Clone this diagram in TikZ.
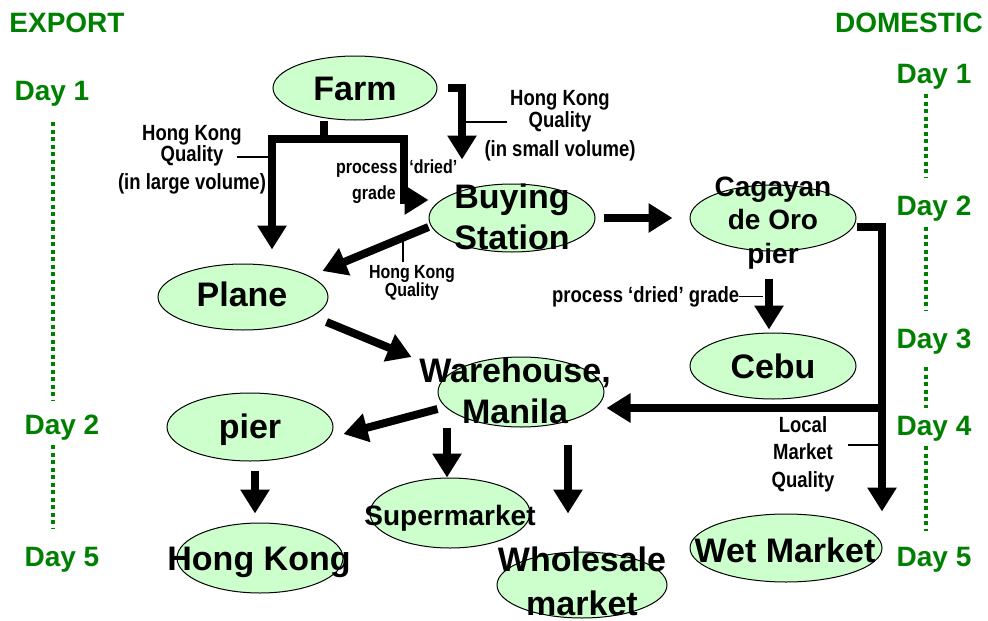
\documentclass[tikz,border=0pt]{standalone}
\usepackage{fontspec}
\setmainfont{Liberation Sans}
\newfontfamily\narrowfont{Liberation Sans}[FakeStretch=0.84]
\usetikzlibrary{arrows.meta,shapes.geometric}
\definecolor{leaf}{RGB}{204,255,204}
\definecolor{daygreen}{RGB}{0,128,0}

\tikzset{
  bubble/.style={ellipse, draw=black, line width=1pt, fill=leaf, inner sep=0pt},
  big/.style={font=\bfseries\fontsize{34}{41}\selectfont, align=center, inner sep=0pt},
  mid/.style={font=\bfseries\fontsize{28}{33.5}\selectfont, align=center, inner sep=0pt},
  note/.style={font=\narrowfont\bfseries\fontsize{22}{19}\selectfont, align=center, inner sep=0pt},
  smallnote/.style={font=\narrowfont\bfseries\fontsize{19}{15}\selectfont, align=center, inner sep=0pt},
  flow/.style={line width=8pt, line join=miter},
  flowarrow/.style={flow, -{Triangle[length=24pt,width=28pt]}},
  leader/.style={line width=1.5pt},
  daylabel/.style={font=\bfseries\fontsize{28}{32}\selectfont, text=daygreen, inner sep=0pt, anchor=base},
  dots/.style={draw=daygreen, line width=4pt, dash pattern=on 4pt off 3.5pt},
}

\begin{document}
\begin{tikzpicture}[x=1pt, y=-1pt]
\useasboundingbox (0,0) rectangle (988,621);

% ---- market places ----
\node[bubble, minimum width=164pt, minimum height=64pt] (farm)      at (355,88)  {};
\node[bubble, minimum width=166pt, minimum height=68pt] (buying)    at (512,218) {};
\node[bubble, minimum width=166pt, minimum height=66pt] (cagayan)   at (773,218) {};
\node[bubble, minimum width=170pt, minimum height=66pt] (plane)     at (243,297) {};
\node[bubble, minimum width=166pt, minimum height=66pt] (cebu)      at (773,366) {};
\node[bubble, minimum width=166pt, minimum height=70pt] (warehouse) at (521,392) {};
\node[bubble, minimum width=166pt, minimum height=68pt] (pier)      at (250,427) {};
\node[bubble, minimum width=166pt, minimum height=70pt] (hk)        at (260,558) {};
\node[bubble, minimum width=160pt, minimum height=70pt] (super)     at (450,513) {};
\node[bubble, minimum width=170pt, minimum height=66pt] (wholesale) at (582,585) {};
\node[bubble, minimum width=192pt, minimum height=68pt] (wet)       at (786,548) {};

% ---- their names ----
\node[big, anchor=base] (farmtxt) at (355,100) {Farm};
\node[big] (buyingtxt) at (512,217) {Buying\\Station};
\node[mid] (cagayantxt) at (773,223) {Cagayan\\de Oro\\pier};
\node[big, anchor=base] (planetxt) at (242,306) {Plane};
\node[big, anchor=base] (cebutxt) at (773,378) {Cebu};
\node[big] (warehousetxt) at (515,391) {Warehouse,\\Manila};
\node[big, anchor=base] (piertxt) at (250,438) {pier};
\node[big, anchor=base] (hktxt) at (259,570) {Hong Kong};
\node[mid, anchor=base] (supertxt) at (450,525) {Supermarket};
\node[big, font=\bfseries\fontsize{34}{44}\selectfont] (wholesaletxt) at (582,581) {Wholesale\\market};
\node[big, anchor=base] (wettxt) at (785,562) {Wet Market};

% ---- route notes ----
\node[note] (lab1) at (192,159.5) {Hong Kong\\Quality\\[6pt](in large volume)};
\node[note] (lab2) at (560,126) {Hong Kong\\Quality\\[8pt](in small volume)};
\node[smallnote] (lab3) at (412,283) {Hong Kong\\Quality};
\node[smallnote, anchor=base west] (proc1) at (336,173) {process\hspace{12pt}‘dried’};
\node[smallnote, anchor=base west] (proc2) at (352,199) {grade};
\node[note, anchor=base west] (lab4) at (552,302) {process ‘dried’ grade};
\node[note, font=\narrowfont\bfseries\fontsize{22}{27.5}\selectfont] (lab5) at (803,454) {Local\\Market\\Quality};

% ---- time scales ----
\node[daylabel] (export) at (67,32) {EXPORT};
\node[daylabel] (e1) at (52,100) {Day 1};
\node[daylabel] (e2) at (62,434) {Day 2};
\node[daylabel] (e5) at (62,566) {Day 5};
\node[daylabel] (domestic) at (909,32) {DOMESTIC};
\node[daylabel] (d1) at (934,83) {Day 1};
\node[daylabel] (d2) at (934,215) {Day 2};
\node[daylabel] (d3) at (934,348) {Day 3};
\node[daylabel] (d4) at (934,435) {Day 4};
\node[daylabel] (d5) at (934,566) {Day 5};

\draw[dots] ([xshift=1pt,yshift=-22pt]e1.base) -- ([xshift=-9pt,yshift=34pt]e2.base);
\draw[dots] ([xshift=-9pt,yshift=-11pt]e2.base) -- ([xshift=-9pt,yshift=38pt]e5.base);
\draw[dots] ([xshift=-8pt,yshift=-11pt]d1.base) -- ([xshift=-8pt,yshift=38pt]d2.base);
\draw[dots] ([xshift=-8pt,yshift=-12pt]d2.base) -- ([xshift=-8pt,yshift=38pt]d3.base);
\draw[dots] ([xshift=-8pt,yshift=-19pt]d3.base) -- ([xshift=-8pt,yshift=27pt]d4.base);
\draw[dots] ([xshift=-8pt,yshift=-11pt]d4.base) -- ([xshift=-8pt,yshift=35pt]d5.base);

% ---- flows ----
\coordinate (split) at (324,139);
\draw[flow] ([xshift=-31pt]farm.south) -- (split);
\draw[flowarrow] (split) -| ([xshift=29pt,yshift=14pt]plane.north);
\draw[flowarrow] (split) -| ([xshift=-25pt,yshift=18pt]buying.west) -- ([yshift=18pt]buying.west);
\draw[flowarrow] ([xshift=10pt]farm.east) -| ([xshift=-50pt,yshift=24pt]buying.north);

\draw[flowarrow] ([yshift=-9pt]buying.west) -- ([xshift=-6pt,yshift=26pt]plane.east);
\draw[flowarrow] ([xshift=8pt]buying.east) -- ([xshift=-17pt]cagayan.west);
\draw[flowarrow] ([xshift=-4pt,yshift=-27pt]cagayan.south) -- ([xshift=-4pt,yshift=3pt]cebu.north);

\coordinate (trunk) at (882,408);
\draw[flow] ([yshift=-9pt]cagayan.east) -| (trunk);
\draw[flowarrow] (trunk) -- ([xshift=2pt,yshift=-16pt]warehouse.east);
\draw[flowarrow] (trunk) -- ([yshift=2pt]trunk |- wet.north);

\draw[flowarrow] ([xshift=-2pt,yshift=-25pt]plane.east) -- ([xshift=-26pt,yshift=35pt]warehouse.west);
\draw[flowarrow] ([yshift=-17pt]warehouse.west) -- ([xshift=10pt,yshift=-7pt]pier.east);
\draw[flowarrow] ([xshift=-74pt]warehouse.south) -- ([xshift=-3pt]super.north);
\draw[flowarrow] ([xshift=47pt,yshift=-17pt]warehouse.south) -- ([xshift=-14pt,yshift=38pt]wholesale.north);
\draw[flowarrow] ([xshift=5pt,yshift=-9pt]pier.south) -- ([xshift=-5pt,yshift=9pt]hk.north);

% ---- note leaders ----
\draw[leader] ([xshift=45pt,yshift=2.5pt]lab1.center) -- ++(31pt,0pt);
\draw[leader] ([xshift=-53pt,yshift=4pt]lab2.center) -- ++(-41pt,0pt);
\draw[leader] ([xshift=-9pt,yshift=21pt]lab3.center) -- ++(0pt,27pt);
\draw[leader] (lab4.east) -- ++(24pt,0pt);
\draw[leader] ([xshift=45pt,yshift=9pt]lab5.center) -- ++(31pt,0pt);
\end{tikzpicture}
\end{document}
